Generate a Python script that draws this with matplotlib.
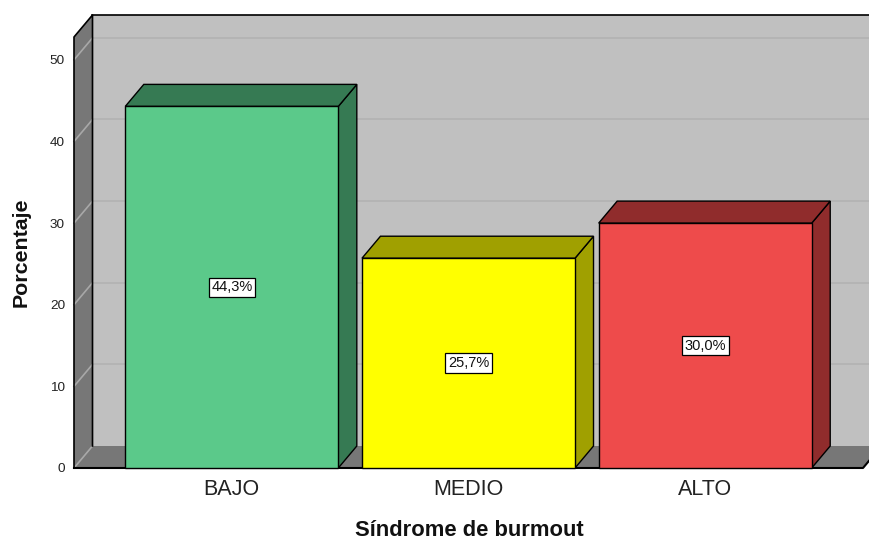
import matplotlib
matplotlib.use('Agg')
import matplotlib.pyplot as plt
from matplotlib.patches import Polygon, Rectangle

# ---- data ----
categories = ['BAJO', 'MEDIO', 'ALTO']
values = [44.3, 25.7, 30.0]
value_labels = ['44,3%', '25,7%', '30,0%']
yticks = [0, 10, 20, 30, 40, 50]
front_colors = ['#5BC98A', '#FFFF00', '#EE4B4B']
dark_colors = ['#367A53', '#A0A000', '#902C2C']

plt.rcParams['font.family'] = ['Liberation Sans', 'DejaVu Sans']

W, H, DPI = 870, 542, 100
fig = plt.figure(figsize=(W / DPI, H / DPI), dpi=DPI)
L_PX, R_PX, B_PX, T_PX = 74, 863, 468, 37
ax = fig.add_axes([L_PX / W, (H - B_PX) / H, (R_PX - L_PX) / W, (B_PX - T_PX) / H])
XMIN, XMAX = -2 / 3, 2 + 2 / 3
YMAX = 52.8
ax.set_xlim(XMIN, XMAX)
ax.set_ylim(0, YMAX)
for s in ax.spines.values():
    s.set_visible(False)
ax.patch.set_visible(False)

# depth offsets in data units
DX = 18.5 * (XMAX - XMIN) / (R_PX - L_PX)
DY = 22.0 * YMAX / (B_PX - T_PX)

WALL = '#C0C0C0'
DARK = '#777777'
k = dict(clip_on=False)

# back wall
ax.add_patch(Rectangle((XMIN + DX, DY), (XMAX - XMIN) + 1, YMAX, fc=WALL, ec='none', zorder=0, **k))
for t in yticks[1:]:
    ax.plot([XMIN + DX, XMAX + DX + 1], [t + DY, t + DY], color='#B2B2B2', lw=1.2, zorder=0.5, **k)
ax.plot([XMIN + DX, XMAX + DX + 1], [YMAX + DY, YMAX + DY], color='black', lw=1.2, zorder=0.6, **k)

# left wall
ax.add_patch(Polygon([(XMIN, 0), (XMIN, YMAX), (XMIN + DX, YMAX + DY), (XMIN + DX, DY)],
                     closed=True, fc=DARK, ec='none', zorder=1, **k))
# floor
ax.add_patch(Polygon([(XMIN, 0), (XMAX, 0), (XMAX + DX, DY), (XMIN + DX, DY)],
                     closed=True, fc=DARK, ec='none', zorder=1, **k))
for t in yticks:
    ax.plot([XMIN, XMIN + DX], [t, t + DY], color='#A8A8A8', lw=1.2, zorder=1.2, **k)
# edges
ax.plot([XMIN, XMIN, XMIN + DX, XMIN + DX], [0, YMAX, YMAX + DY, DY], color='black', lw=1.2, zorder=1.5, **k)
ax.plot([XMIN, XMAX, XMAX + DX], [0, 0, DY], color='black', lw=1.5, zorder=1.5, **k)

# bars
BW = 0.9
for i, (v, fc, dc) in enumerate(zip(values, front_colors, dark_colors)):
    xl, xr = i - BW / 2, i + BW / 2
    ax.add_patch(Polygon([(xr, 0), (xr + DX, DY), (xr + DX, v + DY), (xr, v)], closed=True,
                         fc=dc, ec='black', lw=1.0, zorder=3, joinstyle='miter', **k))
    ax.add_patch(Polygon([(xl, v), (xl + DX, v + DY), (xr + DX, v + DY), (xr, v)], closed=True,
                         fc=dc, ec='black', lw=1.0, zorder=3, joinstyle='miter', **k))
    ax.add_patch(Rectangle((xl, 0), BW, v, fc=fc, ec='black', lw=1.0, zorder=4, **k))
    ax.text(i, v / 2, value_labels[i], ha='center', va='center', fontsize=10.5, color='#111111',
            zorder=6, bbox=dict(boxstyle='square,pad=0.18', fc='white', ec='black', lw=0.9))

ax.set_xticks(range(len(categories)))
ax.set_xticklabels(categories)
ax.set_yticks(yticks)
ax.tick_params(axis='x', length=0, pad=7.6, labelsize=15.5, labelcolor='#222222')
ax.tick_params(axis='y', length=0, pad=6.5, labelsize=9.7, labelcolor='#222222')

fig.text(469 / W, 1 - 531 / H, 'Síndrome de burmout', ha='center', va='center',
         fontsize=15.8, fontweight='bold', color='#111111')
fig.text(21 / W, 1 - 252.5 / H, 'Porcentaje', ha='center', va='center', rotation=90,
         fontsize=15.4, fontweight='bold', color='#111111')

fig.savefig('out.png', dpi=DPI)
